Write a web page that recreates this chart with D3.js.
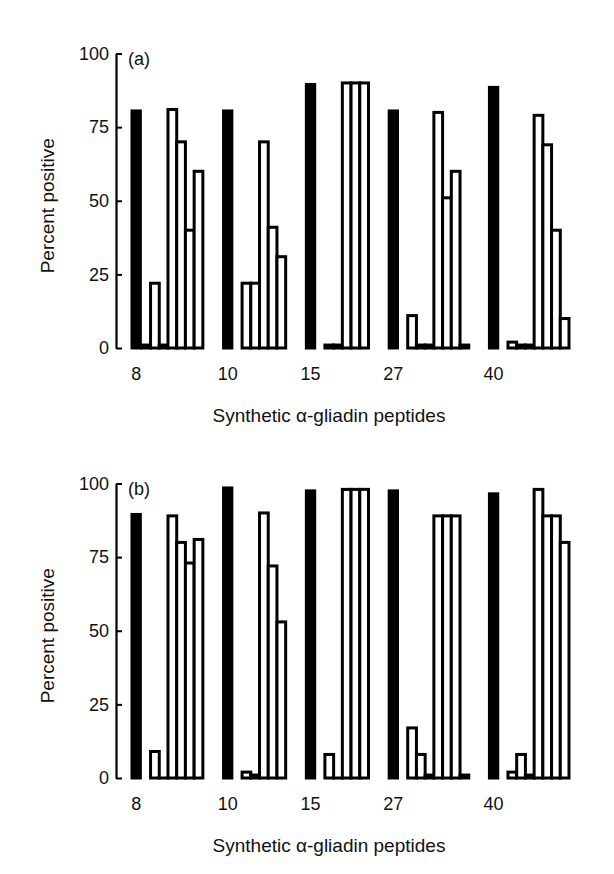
<!DOCTYPE html>
<html>
<head>
<meta charset="utf-8">
<script src="https://cdn.jsdelivr.net/npm/d3@7"></script>
<style>
  html, body { margin: 0; padding: 0; background: #fff; }
  svg { display: block; }
  text { font-family: "Liberation Sans", Arial, Helvetica, sans-serif; fill: #111; }
</style>
</head>
<body>
<svg id="chart" width="614" height="874"></svg>
<script>
// ---- data ----
const peptides = ["8", "10", "15", "27", "40"];
const yTicks = [0, 25, 50, 75, 100];
const panelLabels = ["(a)", "(b)"];
const yTitle = "Percent positive";
const xTitle = "Synthetic \u03B1-gliadin peptides";

// solid (black) bar per peptide
const solidA = [81, 81, 90, 81, 89];
const solidB = [90, 99, 98, 98, 97];

// open bars per peptide (null = empty slot)
const openA8  = [1, 22, 1, 81, 70, 40, 60];
const openA10 = [null, 22, 22, 70, 41, 31];
const openA15 = [null, 1, 1, 90, 90, 90];
const openA27 = [null, 11, 1, 1, 80, 51, 60, 1];
const openA40 = [null, 2, 1, 1, 79, 69, 40, 10];

const openB8  = [null, 9, 0, 89, 80, 73, 81];
const openB10 = [null, 2, 1, 90, 72, 53];
const openB15 = [null, 8, 0, 98, 98, 98];
const openB27 = [null, 17, 8, 1, 89, 89, 89, 1];
const openB40 = [null, 2, 8, 1, 98, 89, 89, 80];

const openA = [openA8, openA10, openA15, openA27, openA40];
const openB = [openB8, openB10, openB15, openB27, openB40];

// ---- layout ----
const svg = d3.select("#chart");
const SOLID_U = 1.3, GAP_U = 2.2;
const slotCounts = peptides.map((p, i) => Math.max(openA[i].length, openB[i].length));
const groupStart = [];
let u = 0;
slotCounts.forEach((n, i) => {
  groupStart.push(u);
  u += SOLID_U + n + (i < slotCounts.length - 1 ? GAP_U : 0);
});
const totalU = u;
const x = d3.scaleLinear().domain([0, totalU]).range([130.5, 569]);

const panels = [
  { label: panelLabels[0], solid: solidA, open: openA, top: 53.5, bottom: 348 },
  { label: panelLabels[1], solid: solidB, open: openB, top: 483.5, bottom: 778 }
];

panels.forEach(P => {
  const y = d3.scaleLinear().domain([0, 100]).range([P.bottom, P.top]);
  const g = svg.append("g");

  const ax = g.append("g")
    .attr("transform", "translate(116,0)")
    .call(d3.axisLeft(y).tickValues(yTicks).tickSizeInner(-6).tickSizeOuter(0).tickPadding(7));
  ax.select(".domain").attr("stroke", "#000").attr("stroke-width", 2.2);
  ax.selectAll(".tick line").attr("stroke", "#000").attr("stroke-width", 2);
  ax.selectAll(".tick text")
    .attr("font-size", 18)
    .attr("font-family", "Liberation Sans, Arial, sans-serif")
    .attr("fill", "#111");

  g.append("text")
    .attr("transform", `translate(54,${(P.top + P.bottom) / 2 + 5}) rotate(-90)`)
    .attr("text-anchor", "middle")
    .attr("font-size", 19)
    .text(yTitle);

  g.append("text")
    .attr("x", 128).attr("y", P.top + 11)
    .attr("font-size", 18)
    .text(P.label);

  peptides.forEach((pep, i) => {
    const s0 = groupStart[i];
    g.append("rect")
      .attr("x", x(s0))
      .attr("y", y(P.solid[i]))
      .attr("width", x(s0 + SOLID_U) - x(s0))
      .attr("height", y(0) - y(P.solid[i]) + 1.5)
      .attr("fill", "#000");

    const o0 = s0 + SOLID_U;
    g.selectAll(null)
      .data(P.open[i].map((v, k) => ({ v, k })).filter(d => d.v !== null))
      .enter().append("rect")
      .attr("x", d => x(o0 + d.k))
      .attr("y", d => y(d.v))
      .attr("width", d => x(o0 + d.k + 1) - x(o0 + d.k))
      .attr("height", d => Math.max(0.01, y(0) - y(d.v)))
      .attr("fill", "#fff")
      .attr("stroke", "#000")
      .attr("stroke-width", 3);

    g.append("text")
      .attr("x", x(s0 + SOLID_U / 2))
      .attr("y", P.bottom + 32)
      .attr("text-anchor", "middle")
      .attr("font-size", 18)
      .text(pep);
  });

  g.append("text")
    .attr("x", 329).attr("y", P.bottom + 74)
    .attr("text-anchor", "middle")
    .attr("font-size", 19)
    .text(xTitle);
});
</script>
</body>
</html>
